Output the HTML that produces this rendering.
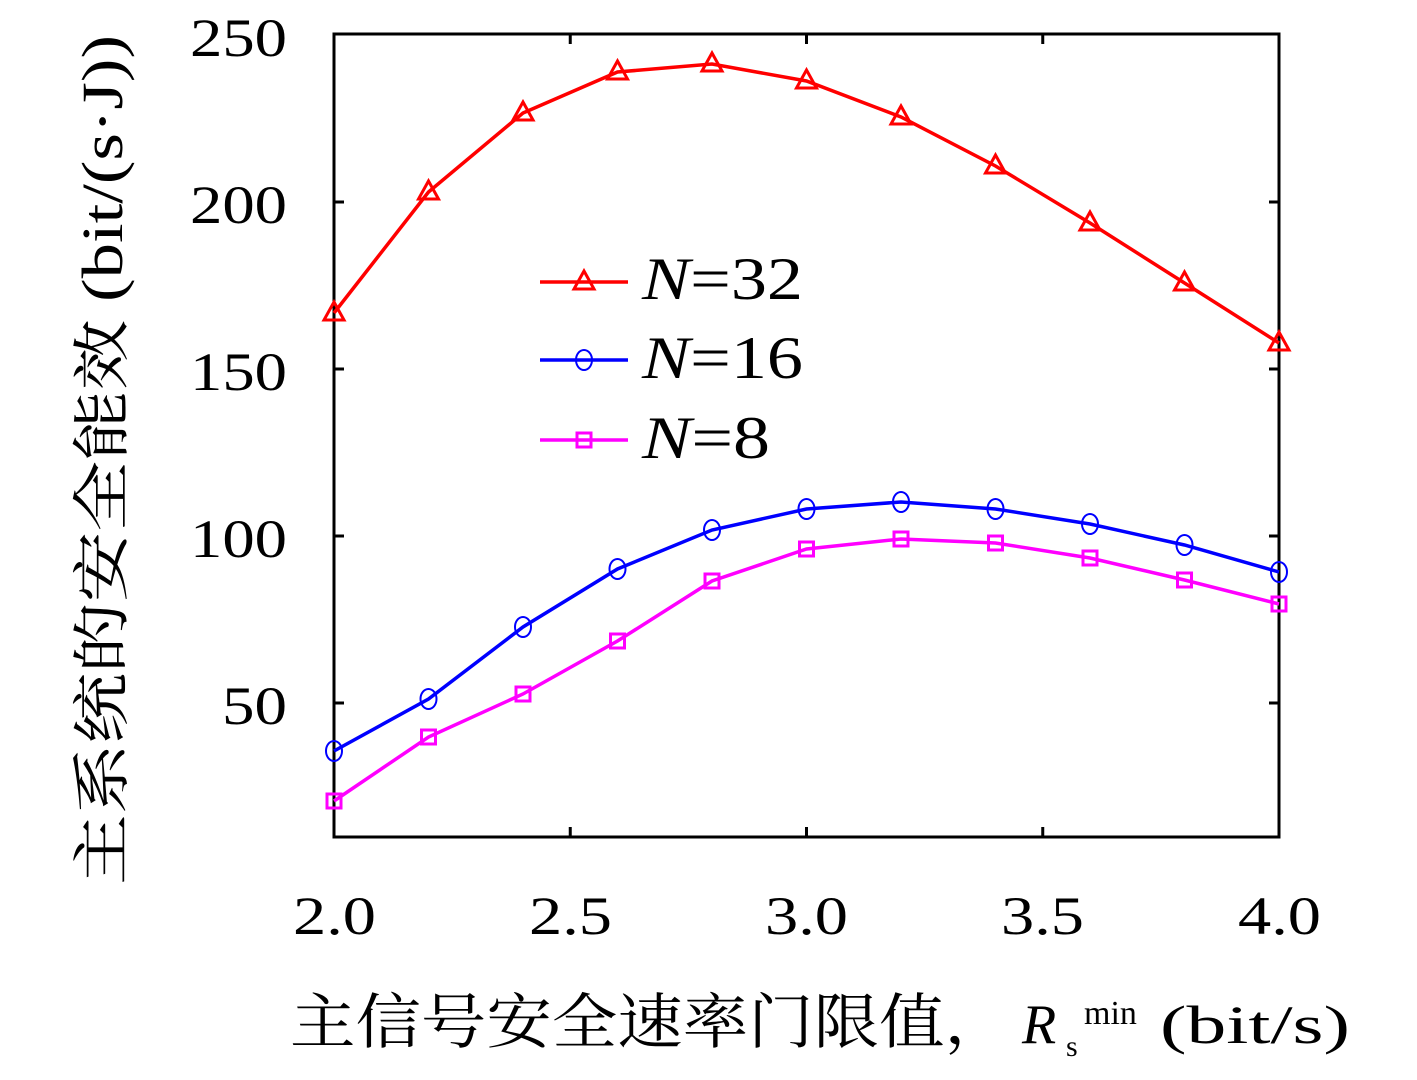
<!DOCTYPE html>
<html><head><meta charset="utf-8"><style>
html,body{margin:0;padding:0;background:#fff;}
</style></head><body>
<svg width="1417" height="1075" xmlns="http://www.w3.org/2000/svg" font-family="'Liberation Serif','Noto Serif CJK SC',serif">
<rect width="1417" height="1075" fill="#fff"/>
<g stroke="#000" stroke-width="3" fill="none">
<rect x="334" y="34" width="945" height="803"/>
<path d="M570.25 837v-10M806.5 837v-10M1042.75 837v-10M570.25 34v10M806.5 34v10M1042.75 34v10
M334 202h10M334 369h10M334 536h10M334 703h10M1279 202h-10M1279 369h-10M1279 536h-10M1279 703h-10"/>
</g>
<g font-size="54" fill="#000">
<text x="190" y="56" textLength="97" lengthAdjust="spacingAndGlyphs">250</text>
<text x="190" y="223" textLength="97" lengthAdjust="spacingAndGlyphs">200</text>
<text x="190" y="390" textLength="97" lengthAdjust="spacingAndGlyphs">150</text>
<text x="190" y="557" textLength="97" lengthAdjust="spacingAndGlyphs">100</text>
<text x="222" y="724" textLength="65" lengthAdjust="spacingAndGlyphs">50</text>
</g>
<g font-size="54" fill="#000">
<text x="293" y="934" textLength="83" lengthAdjust="spacingAndGlyphs">2.0</text>
<text x="529" y="934" textLength="83" lengthAdjust="spacingAndGlyphs">2.5</text>
<text x="765" y="934" textLength="83" lengthAdjust="spacingAndGlyphs">3.0</text>
<text x="1001" y="934" textLength="83" lengthAdjust="spacingAndGlyphs">3.5</text>
<text x="1238" y="934" textLength="83" lengthAdjust="spacingAndGlyphs">4.0</text>
</g>
<polyline fill="none" stroke="#f00" stroke-width="3.5" points="334,313 428.5,192 523,113 617.5,72 712,64 806.5,81 901,117 995.5,166 1090,223 1184.5,283 1279,343"/>
<g fill="none" stroke="#f00" stroke-width="3">
<path d="M334,302l-10,18h20z M428.5,181l-10,18h20z M523,102l-10,18h20z M617.5,61l-10,18h20z M712,53l-10,18h20z M806.5,70l-10,18h20z M901,106l-10,18h20z M995.5,155l-10,18h20z M1090,212l-10,18h20z M1184.5,272l-10,18h20z M1279,332l-10,18h20z"/>
</g>
<polyline fill="none" stroke="#00f" stroke-width="3.5" points="334,751 428.5,699 523,627 617.5,569 712,530 806.5,509 901,502 995.5,509 1090,524 1184.5,545 1279,572"/>
<g fill="none" stroke="#00f" stroke-width="2">
<ellipse cx="334" cy="751" rx="8" ry="10"/><ellipse cx="428.5" cy="699" rx="8" ry="10"/><ellipse cx="523" cy="627" rx="8" ry="10"/><ellipse cx="617.5" cy="569" rx="8" ry="10"/><ellipse cx="712" cy="530" rx="8" ry="10"/><ellipse cx="806.5" cy="509" rx="8" ry="10"/><ellipse cx="901" cy="502" rx="8" ry="10"/><ellipse cx="995.5" cy="509" rx="8" ry="10"/><ellipse cx="1090" cy="524" rx="8" ry="10"/><ellipse cx="1184.5" cy="545" rx="8" ry="10"/><ellipse cx="1279" cy="572" rx="8" ry="10"/>
</g>
<polyline fill="none" stroke="#f0f" stroke-width="3.5" points="334,801 428.5,737 523,694 617.5,641 712,581 806.5,549 901,539 995.5,543 1090,558 1184.5,580 1279,604"/>
<g fill="none" stroke="#f0f" stroke-width="3">
<rect x="327" y="794" width="14" height="14"/><rect x="421.5" y="730" width="14" height="14"/><rect x="516" y="687" width="14" height="14"/><rect x="610.5" y="634" width="14" height="14"/><rect x="705" y="574" width="14" height="14"/><rect x="799.5" y="542" width="14" height="14"/><rect x="894" y="532" width="14" height="14"/><rect x="988.5" y="536" width="14" height="14"/><rect x="1083" y="551" width="14" height="14"/><rect x="1177.5" y="573" width="14" height="14"/><rect x="1272" y="597" width="14" height="14"/>
</g>
<line x1="540" y1="282" x2="628" y2="282" stroke="#f00" stroke-width="3.5"/>
<path d="M584,271l-10,18h20z" fill="none" stroke="#f00" stroke-width="3"/>
<line x1="540" y1="360" x2="628" y2="360" stroke="#00f" stroke-width="3.5"/>
<ellipse cx="584" cy="360" rx="8" ry="10" fill="none" stroke="#00f" stroke-width="2"/>
<line x1="540" y1="440" x2="628" y2="440" stroke="#f0f" stroke-width="3.5"/>
<rect x="577" y="433" width="14" height="14" fill="none" stroke="#f0f" stroke-width="3"/>
<g font-size="60" fill="#000">
<text x="642" y="299" textLength="161" lengthAdjust="spacingAndGlyphs"><tspan font-style="italic">N</tspan>=32</text>
<text x="642" y="378" textLength="161" lengthAdjust="spacingAndGlyphs"><tspan font-style="italic">N</tspan>=16</text>
<text x="642" y="458" textLength="128" lengthAdjust="spacingAndGlyphs"><tspan font-style="italic">N</tspan>=8</text>
</g>
<text transform="translate(122,885) rotate(-90)" font-size="58" fill="#000" textLength="850" lengthAdjust="spacingAndGlyphs">主系统的安全能效 (bit/(s·J))</text>
<text x="290" y="1043" font-size="60" fill="#000" textLength="720" lengthAdjust="spacingAndGlyphs">主信号安全速率门限值，</text>
<text x="1022" y="1043" font-size="56" font-style="italic" fill="#000">R</text>
<text x="1066" y="1056" font-size="30" fill="#000">s</text>
<text x="1084" y="1024" font-size="34" fill="#000">min</text>
<text x="1160" y="1043" font-size="54" fill="#000" textLength="190" lengthAdjust="spacingAndGlyphs">(bit/s)</text>
</svg>
</body></html>
